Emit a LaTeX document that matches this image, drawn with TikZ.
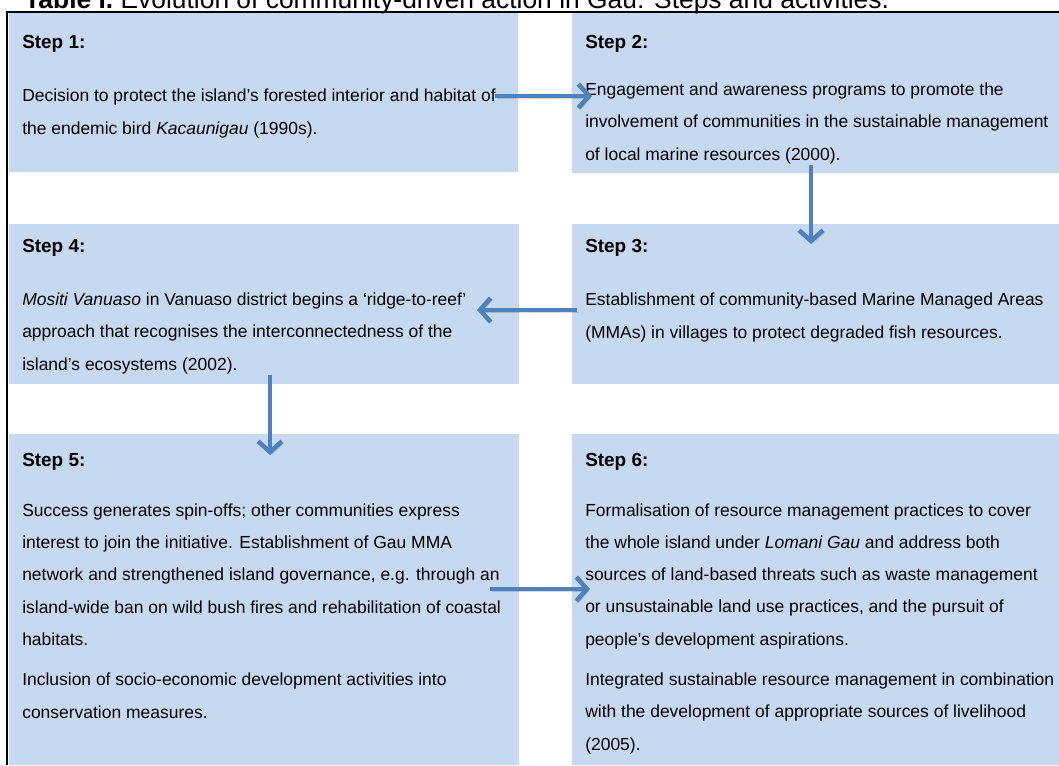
\documentclass[tikz,border=0pt]{standalone}
\usepackage{fontspec}
\setmainfont{Liberation Sans}
\usetikzlibrary{positioning,arrows.meta}
\definecolor{cellblue}{HTML}{C6D9F1}
\definecolor{arrblue}{HTML}{4F81BD}
\tikzset{
  cell/.style={fill=cellblue},
  frm/.style={line width=1.5pt,black},
  steplbl/.style={anchor=base west,inner sep=0pt,font=\fontsize{14.2}{24.2}\selectfont\bfseries},
  % anchor sits on the baseline of the last line
  bodytxt/.style={anchor=base west,inner sep=0pt,align=left,font=\fontsize{13.1}{24.2}\selectfont},
  flw/.style={-{Straight Barb[length=8pt,width=18pt]},line width=3.4pt,arrblue,
    preaction={draw=black,opacity=.15,transform canvas={shift={(1.2pt,-1.8pt)}}}},
}
\begin{document}
\begin{tikzpicture}[x=0.75pt,y=-0.75pt]
  \useasboundingbox (0,0) rectangle (1059,765);
  % cells
  \fill[cell] (9,13) rectangle (518,172);
  \fill[cell] (572,13) rectangle (1059,173);
  \fill[cell] (9,224) rectangle (519,384);
  \fill[cell] (572,224) rectangle (1059,384);
  \fill[cell] (9,434) rectangle (519,765);
  \fill[cell] (572,434) rectangle (1059,765);
  % frame
  \draw[frm] (1059,12) -- (7,12) -- (7,765);
  % title
  \node[anchor=base west,inner sep=0pt,font=\fontsize{19.8}{24}\selectfont] (ttl) at (24,8)
    {\textbf{Table I.} Evolution of community-driven action in Gau: Steps and activities.};
  % step labels
  \node[steplbl] (h1) at (22,48) {Step 1:};
  \node[steplbl] (h2) at (585,48) {Step 2:};
  \node[steplbl] (h4) at (22,252) {Step 4:};
  \node[steplbl] (h3) at (585,252) {Step 3:};
  \node[steplbl] (h5) at (22,466) {Step 5:};
  \node[steplbl] (h6) at (585,466) {Step 6:};
  % texts
  \node[bodytxt] (t1) at (22,134) {Decision to protect the island’s forested interior and habitat of\\
    the endemic bird \textit{Kacaunigau} (1990s).};
  \node[bodytxt] (t2) at (585,160) {Engagement and awareness programs to promote the\\
    involvement of communities in the sustainable management\\
    of local marine resources (2000).};
  \node[bodytxt] (t4) at (22,370) {\textit{Mositi Vanuaso} in Vanuaso district begins a ‘ridge-to-reef’\\
    approach that recognises the interconnectedness of the\\
    island’s ecosystems (2002).};
  \node[bodytxt] (t3) at (585,338) {Establishment of community-based Marine Managed Areas\\
    (MMAs) in villages to protect degraded fish resources.};
  \node[bodytxt] (t5) at (22,718) {Success generates spin-offs; other communities express\\
    interest to join the initiative. Establishment of Gau MMA\\
    network and strengthened island governance, e.g. through an\\
    island-wide ban on wild bush fires and rehabilitation of coastal\\
    habitats.\\[6pt]
    Inclusion of socio-economic development activities into\\
    conservation measures.};
  \node[bodytxt] (t6) at (585,750) {Formalisation of resource management practices to cover\\
    the whole island under \textit{Lomani Gau} and address both\\
    sources of land-based threats such as waste management\\
    or unsustainable land use practices, and the pursuit of\\
    people’s development aspirations.\\[6pt]
    Integrated sustainable resource management in combination\\
    with the development of appropriate sources of livelihood\\
    (2005).};
  % arrow ends
  \coordinate (a1) at (495,96);  \coordinate (b1) at (592,96);
  \coordinate (a2) at (811,165); \coordinate (b2) at (811,244);
  \coordinate (a3) at (577,310); \coordinate (b3) at (477,310);
  \coordinate (a4) at (270,375); \coordinate (b4) at (270,455);
  \coordinate (a5) at (490,589); \coordinate (b5) at (590,589);
  \foreach \i in {1,...,5}
    \draw[flw] (a\i) -- (b\i);
\end{tikzpicture}
\end{document}
